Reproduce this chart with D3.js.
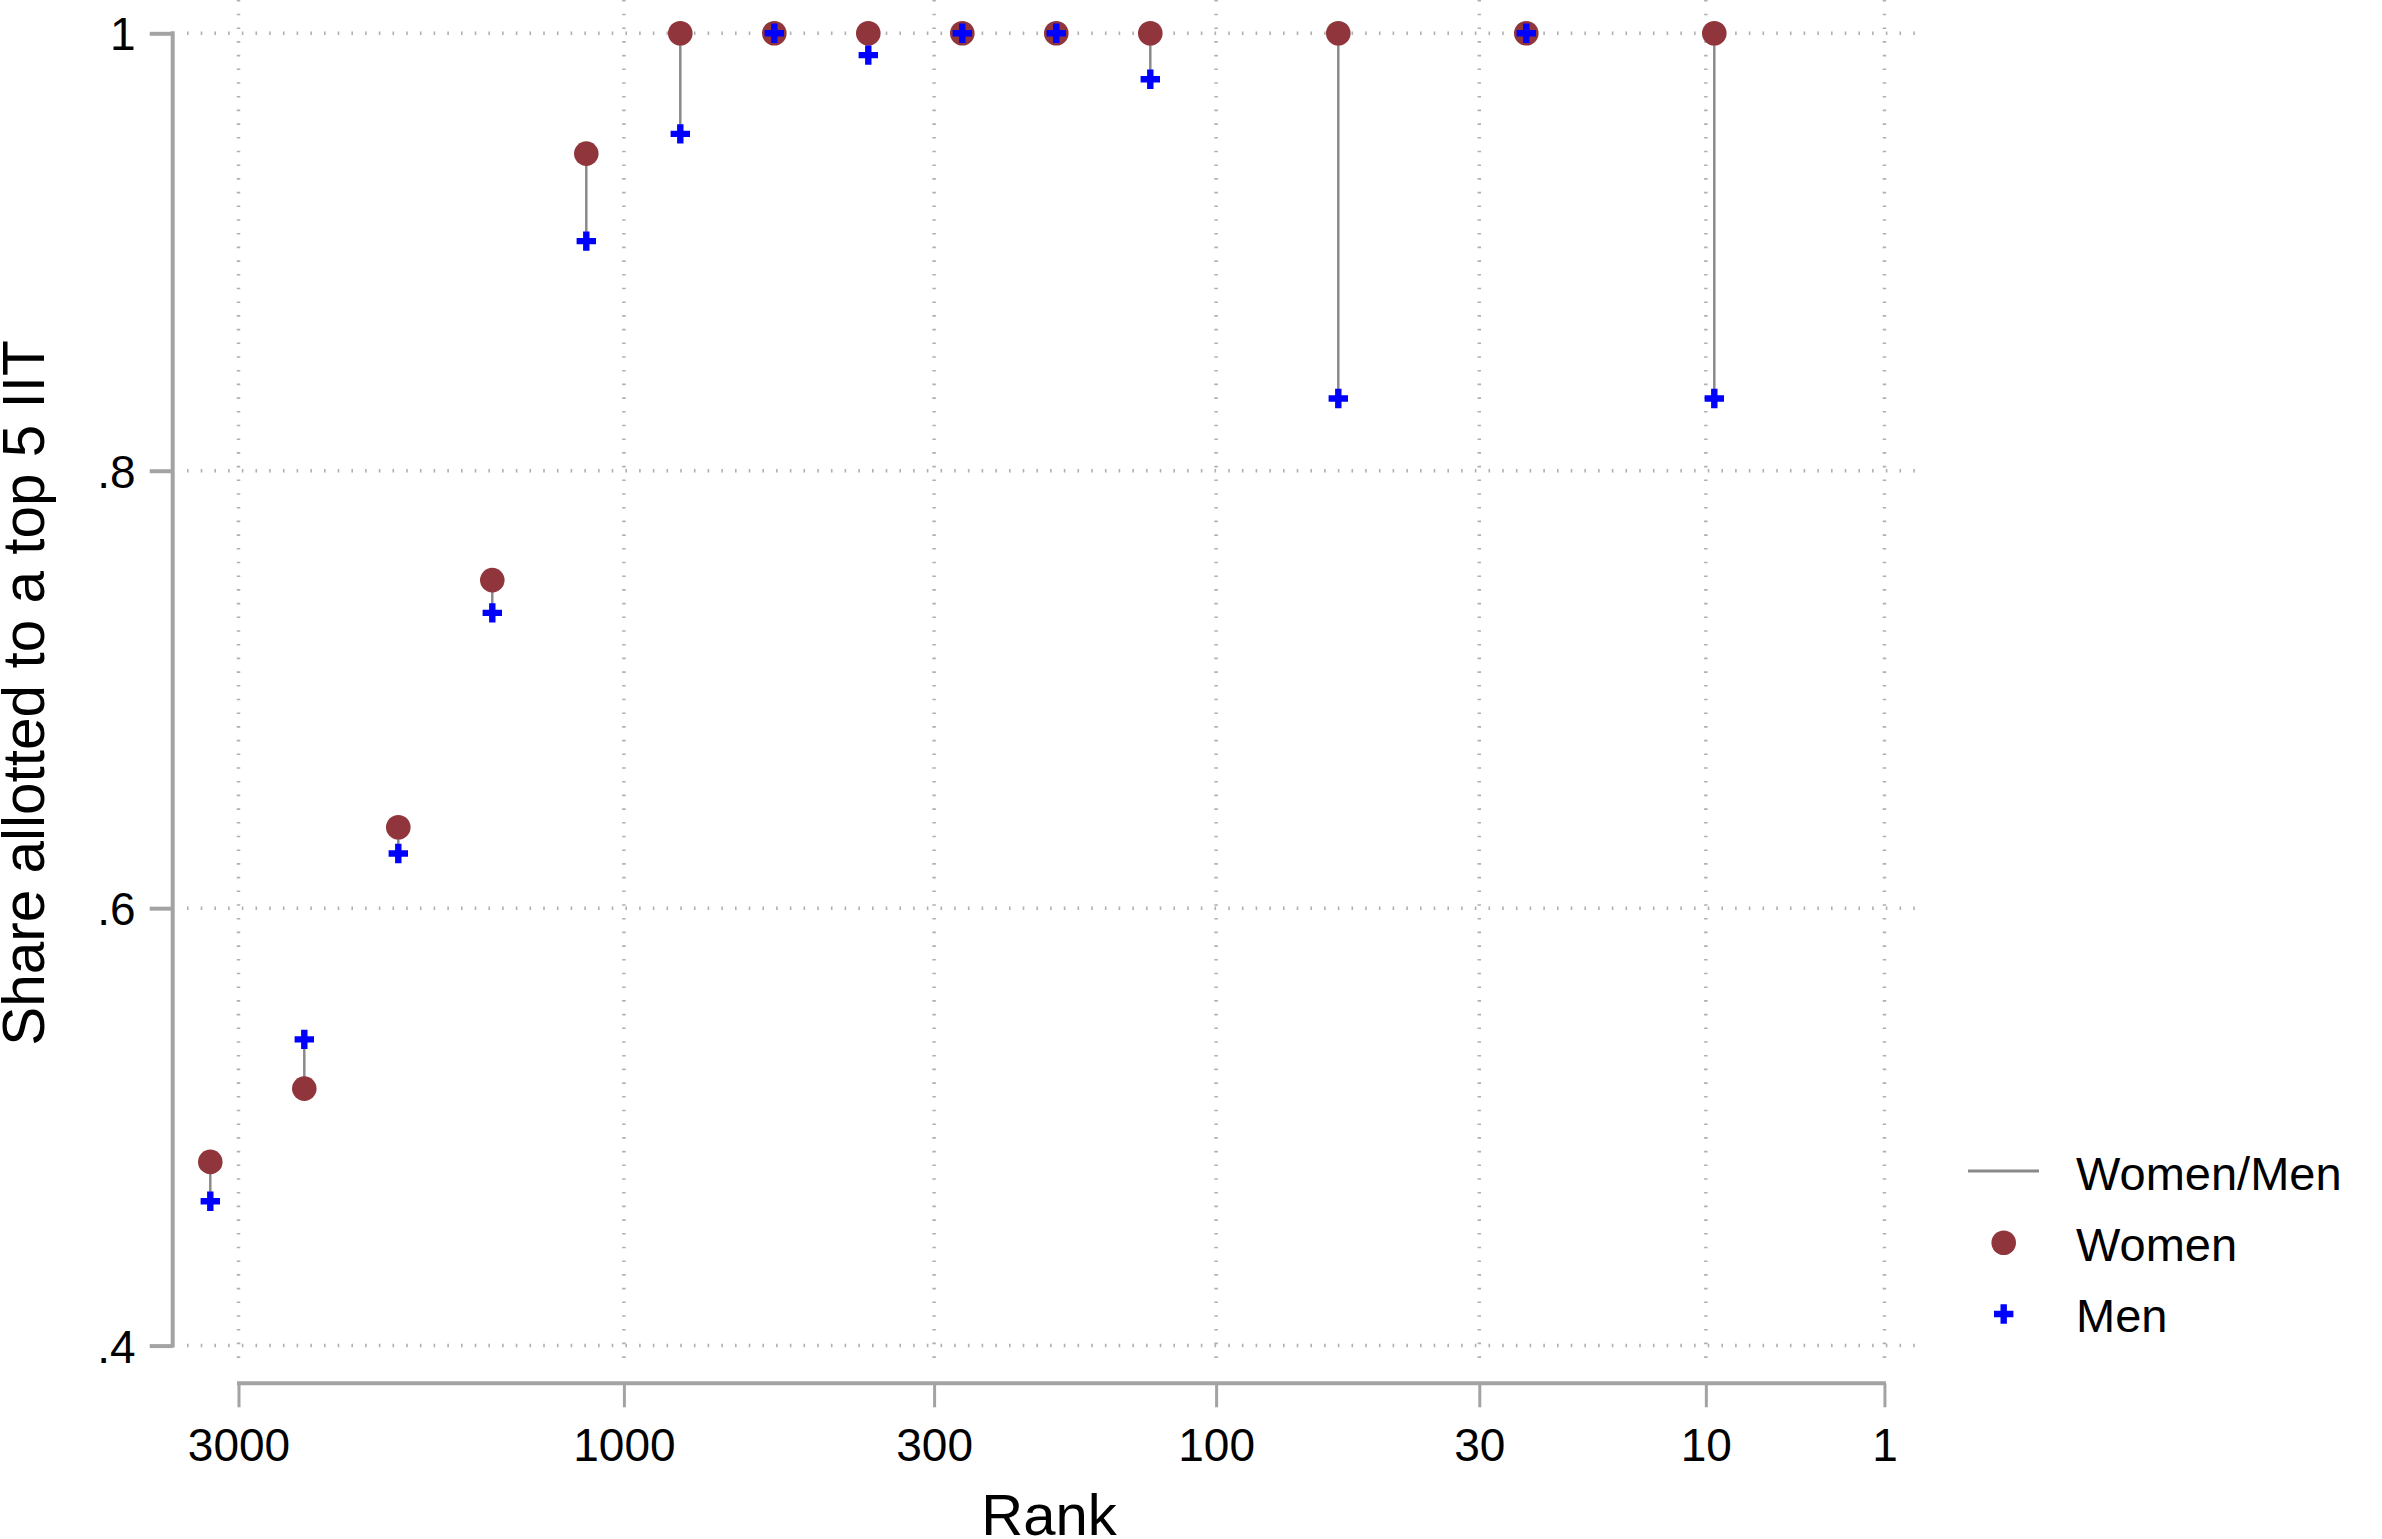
<!DOCTYPE html>
<html>
<head>
<meta charset="utf-8">
<script src="https://cdn.jsdelivr.net/npm/d3@7"></script>
<style>
  body { margin: 0; background: #fff; }
  svg { display: block; font-family: "Liberation Sans", Arial, Helvetica, sans-serif; }
</style>
</head>
<body>
<div class="container"></div>
<script>
// rank bins (evenly spaced on the x axis, some bins empty)
const binIndex = [0, 1, 2, 3, 4, 5, 6, 7, 8, 9, 10, 12, 14, 16];
const women = [0.484, 0.5175, 0.637, 0.750, 0.945, 1, 1, 1, 1, 1, 1, 1, 1, 1];
const men = [0.466, 0.540, 0.625, 0.735, 0.905, 0.954, 1, 0.990, 1, 1, 0.979, 0.833, 1, 0.833];

const rankTickLabels = ["3000", "1000", "300", "100", "30", "10", "1"];
const rankTickBins = [0.30, 4.40, 7.70, 10.70, 13.50, 15.91, 17.81];
const shareTicks = [0.4, 0.6, 0.8, 1];
const shareTickLabels = [".4", ".6", ".8", "1"];

const legendLabels = ["Women/Men", "Women", "Men"];

const data = binIndex.map((k, i) => ({ k, w: women[i], m: men[i] }));

const width = 2382;
const height = 1539;
const womenColor = "#90353b";
const menColor = "#0000ff";
const axisColor = "#a3a3a3";
const gridColor = "#b0b0b0";
const spikeColor = "#8a8a8a";

const x = d3.scaleLinear().domain([0, 16]).range([210.3, 1714.3]);
const y = d3.scaleLinear().domain([0.4, 1]).range([1345.6, 33.3]);

const svg = d3
  .select(".container")
  .append("svg")
  .attr("width", width)
  .attr("height", height);

svg.append("rect").attr("width", width).attr("height", height).attr("fill", "#fff");

// grid
const grid = svg.append("g").attr("id", "grid");
grid
  .selectAll("line.hgrid")
  .data(shareTicks)
  .enter()
  .append("line")
  .attr("class", "hgrid")
  .attr("x1", 187)
  .attr("x2", 1922)
  .attr("y1", d => y(d))
  .attr("y2", d => y(d))
  .attr("stroke", gridColor)
  .attr("stroke-width", 3.5)
  .attr("stroke-dasharray", "1.6 12.1");

grid
  .selectAll("line.vgrid")
  .data(rankTickBins)
  .enter()
  .append("line")
  .attr("class", "vgrid")
  .attr("x1", d => x(d))
  .attr("x2", d => x(d))
  .attr("y1", 0)
  .attr("y2", 1370)
  .attr("stroke", gridColor)
  .attr("stroke-width", 3.5)
  .attr("stroke-dasharray", "1.6 12.1");

// x axis
const xAxis = d3
  .axisBottom(x)
  .tickValues(rankTickBins)
  .tickFormat((d, i) => rankTickLabels[i])
  .tickSizeOuter(0)
  .tickSize(24);

const gx = svg
  .append("g")
  .attr("transform", "translate(0,1383.3)")
  .call(xAxis);
gx.select(".domain").remove();
gx.selectAll(".tick line").attr("stroke", axisColor).attr("stroke-width", 3);
gx.selectAll(".tick text")
  .attr("y", 78)
  .attr("dy", 0)
  .attr("font-size", 46)
  .attr("font-family", "Liberation Sans, Arial, sans-serif")
  .attr("fill", "#000");
gx.append("line")
  .attr("x1", x(rankTickBins[0]) - 1.5)
  .attr("x2", x(rankTickBins[rankTickBins.length - 1]) + 1.5)
  .attr("stroke", axisColor)
  .attr("stroke-width", 4);

// y axis
const yAxis = d3
  .axisLeft(y)
  .tickValues(shareTicks)
  .tickFormat((d, i) => shareTickLabels[i])
  .tickSizeOuter(0)
  .tickSize(23)
  .tickPadding(14);

const gy = svg
  .append("g")
  .attr("transform", "translate(172.7,0)")
  .call(yAxis);
gy.select(".domain").remove();
gy.selectAll(".tick line").attr("stroke", axisColor).attr("stroke-width", 4);
gy.selectAll(".tick text")
  .attr("dy", "0.36em")
  .attr("font-size", 46)
  .attr("font-family", "Liberation Sans, Arial, sans-serif")
  .attr("fill", "#000");
gy.append("line")
  .attr("y1", y(1) - 2)
  .attr("y2", y(0.4) + 2)
  .attr("stroke", axisColor)
  .attr("stroke-width", 4);

// axis titles
svg
  .append("text")
  .attr("x", 1049)
  .attr("y", 1535)
  .attr("text-anchor", "middle")
  .attr("font-size", 58)
  .text("Rank");

svg
  .append("text")
  .attr("transform", "translate(44,693) rotate(-90)")
  .attr("text-anchor", "middle")
  .attr("font-size", 58.5)
  .text("Share allotted to a top 5 IIT");

// spikes women/men
svg
  .append("g")
  .attr("id", "spikes")
  .selectAll("line")
  .data(data)
  .enter()
  .append("line")
  .attr("x1", d => x(d.k))
  .attr("x2", d => x(d.k))
  .attr("y1", d => y(d.w))
  .attr("y2", d => y(d.m))
  .attr("stroke", spikeColor)
  .attr("stroke-width", 2.5);

// women markers
svg
  .append("g")
  .attr("id", "women")
  .selectAll("circle")
  .data(data)
  .enter()
  .append("circle")
  .attr("cx", d => x(d.k))
  .attr("cy", d => y(d.w))
  .attr("r", 12.3)
  .attr("fill", womenColor);

// men markers
const plus = (cx, cy, h) => `M${cx - h},${cy}H${cx + h}M${cx},${cy - h}V${cy + h}`;

svg
  .append("g")
  .attr("id", "men")
  .selectAll("path")
  .data(data)
  .enter()
  .append("path")
  .attr("d", d => plus(x(d.k), y(d.m), 9.7))
  .attr("stroke", menColor)
  .attr("stroke-width", 6.4)
  .attr("fill", "none");

// legend
const legend = svg.append("g").attr("id", "legend");
legend
  .append("line")
  .attr("x1", 1968)
  .attr("x2", 2039)
  .attr("y1", 1171)
  .attr("y2", 1171)
  .attr("stroke", spikeColor)
  .attr("stroke-width", 3);
legend
  .append("circle")
  .attr("cx", 2003.7)
  .attr("cy", 1242.7)
  .attr("r", 12.3)
  .attr("fill", womenColor);
legend
  .append("path")
  .attr("d", plus(2003.7, 1314, 9.7))
  .attr("stroke", menColor)
  .attr("stroke-width", 6.4);

legend
  .selectAll("text")
  .data(legendLabels)
  .enter()
  .append("text")
  .attr("x", 2076)
  .attr("y", (d, i) => 1190 + i * 71)
  .attr("font-size", 47)
  .text(d => d);
</script>
</body>
</html>
